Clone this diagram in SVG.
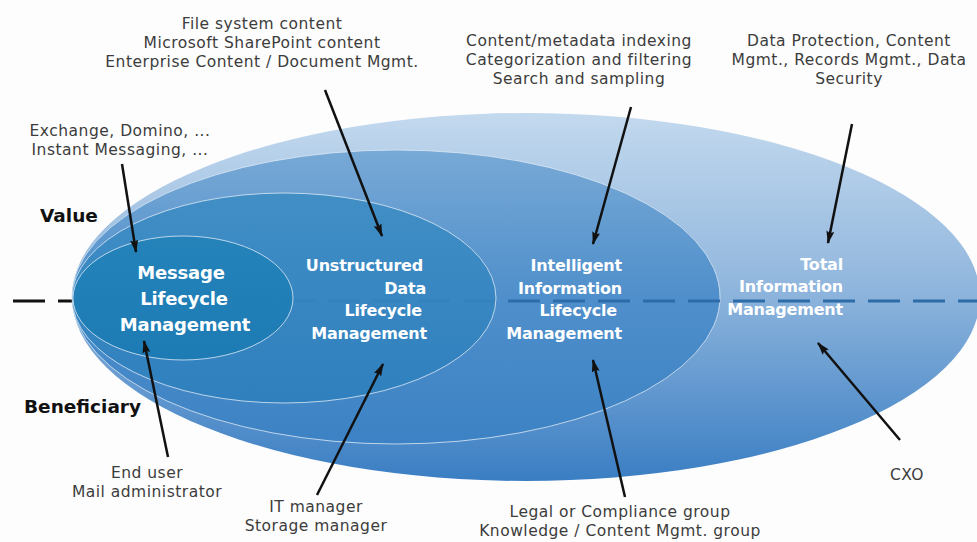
<svg xmlns="http://www.w3.org/2000/svg" width="977" height="542" viewBox="0 0 977 542">
<defs>
<linearGradient id="g1" x1="0" y1="0" x2="0" y2="1">
<stop offset="0" stop-color="#c3d9ee"/>
<stop offset="0.45" stop-color="#93b8de"/>
<stop offset="1" stop-color="#3a7ec3"/>
</linearGradient>
<linearGradient id="g2" x1="0" y1="0" x2="0" y2="1">
<stop offset="0" stop-color="#78a9d6"/>
<stop offset="0.5" stop-color="#4f8fcb"/>
<stop offset="1" stop-color="#3c82c4"/>
</linearGradient>
<linearGradient id="g3" x1="0" y1="0" x2="0" y2="1">
<stop offset="0" stop-color="#3c8cc4"/>
<stop offset="1" stop-color="#2d7fbd"/>
</linearGradient>
<linearGradient id="g4" x1="0" y1="0" x2="0" y2="1">
<stop offset="0" stop-color="#2282b9"/>
<stop offset="1" stop-color="#1b7ab3"/>
</linearGradient>
<marker id="ah" viewBox="0 0 13 8" refX="12" refY="4" markerWidth="13" markerHeight="8" markerUnits="userSpaceOnUse" orient="auto">
<path d="M0,0 L13,4 L0,8 L2,4 Z" fill="#111"/>
</marker>
<style>
.lbl{font-family:"DejaVu Sans","Liberation Sans",sans-serif;font-size:15.5px;fill:#3c3c3c;text-anchor:middle;letter-spacing:0.5px}
.ax{font-family:"DejaVu Sans","Liberation Sans",sans-serif;font-size:18.5px;font-weight:bold;fill:#111}
.in{font-family:"DejaVu Sans","Liberation Sans",sans-serif;font-size:16px;font-weight:bold;fill:#fff;text-anchor:end;letter-spacing:-0.2px}
.msg{font-family:"DejaVu Sans","Liberation Sans",sans-serif;font-size:18px;font-weight:bold;fill:#fff;text-anchor:middle;letter-spacing:-0.2px}
.ring{stroke:#dce8f4;stroke-width:1;stroke-opacity:0.8}
.arr{stroke:#111;stroke-width:2.5;fill:none;marker-end:url(#ah)}
</style>
</defs>
<rect width="977" height="542" fill="#fdfdfd"/>
<g id="total">
<ellipse cx="526" cy="297" rx="454" ry="184" fill="url(#g1)"/>
</g>
<g id="intelligent">
<ellipse cx="396" cy="297" rx="324" ry="147" fill="url(#g2)" class="ring"/>
</g>
<g id="axis">
<line x1="13" y1="301" x2="72" y2="301" stroke="#111" stroke-width="3" stroke-dasharray="32 13"/>
<line x1="72" y1="301" x2="977" y2="301" stroke="#2d6ca8" stroke-width="3" stroke-dasharray="32 13" stroke-dashoffset="59"/>
</g>
<g id="unstructured">
<ellipse cx="284" cy="298" rx="212" ry="105" fill="url(#g3)" fill-opacity="0.88" class="ring"/>
</g>
<g id="message">
<ellipse cx="183" cy="298" rx="110" ry="62" fill="url(#g4)" fill-opacity="0.9" class="ring"/>
</g>
<g id="labels-in">
<text class="msg" x="181" y="279">Message</text>
<text class="msg" x="184" y="305">Lifecycle</text>
<text class="msg" x="185" y="331">Management</text>
<text class="in" x="423" y="271">Unstructured</text>
<text class="in" x="426" y="294">Data</text>
<text class="in" x="422" y="316">Lifecycle</text>
<text class="in" x="427" y="339">Management</text>
<text class="in" x="622" y="271">Intelligent</text>
<text class="in" x="622" y="294">Information</text>
<text class="in" x="617" y="316">Lifecycle</text>
<text class="in" x="622" y="339">Management</text>
<text class="in" x="843" y="270">Total</text>
<text class="in" x="843" y="292">Information</text>
<text class="in" x="843" y="315">Management</text>
</g>
<g id="axis-labels">
<text class="ax" x="40" y="222">Value</text>
<text class="ax" x="24" y="413">Beneficiary</text>
</g>
<g id="top-labels">
<text class="lbl" x="262" y="29">File system content</text>
<text class="lbl" x="262" y="48">Microsoft SharePoint content</text>
<text class="lbl" x="262" y="67">Enterprise Content / Document Mgmt.</text>
<text class="lbl" x="120" y="136">Exchange, Domino, ...</text>
<text class="lbl" x="120" y="155">Instant Messaging, ...</text>
<text class="lbl" x="579" y="46">Content/metadata indexing</text>
<text class="lbl" x="579" y="65">Categorization and filtering</text>
<text class="lbl" x="579" y="84">Search and sampling</text>
<text class="lbl" x="849" y="46">Data Protection, Content</text>
<text class="lbl" x="849" y="65">Mgmt., Records Mgmt., Data</text>
<text class="lbl" x="849" y="84">Security</text>
</g>
<g id="bottom-labels">
<text class="lbl" x="147" y="478">End user</text>
<text class="lbl" x="147" y="497">Mail administrator</text>
<text class="lbl" x="316" y="512">IT manager</text>
<text class="lbl" x="316" y="531">Storage manager</text>
<text class="lbl" x="620" y="517">Legal or Compliance group</text>
<text class="lbl" x="620" y="536">Knowledge / Content Mgmt. group</text>
<text class="lbl" x="907" y="480">CXO</text>
</g>
<g id="connectors">
<line class="arr" x1="122" y1="164" x2="136" y2="252"/>
<line class="arr" x1="325" y1="90" x2="382" y2="236"/>
<line class="arr" x1="631" y1="107" x2="593" y2="244"/>
<line class="arr" x1="852" y1="124" x2="828" y2="243"/>
<line class="arr" x1="168" y1="457" x2="144" y2="341"/>
<line class="arr" x1="317" y1="495" x2="383" y2="364"/>
<line class="arr" x1="625" y1="497" x2="593" y2="360"/>
<line class="arr" x1="900" y1="440" x2="818" y2="343"/>
</g>
</svg>
